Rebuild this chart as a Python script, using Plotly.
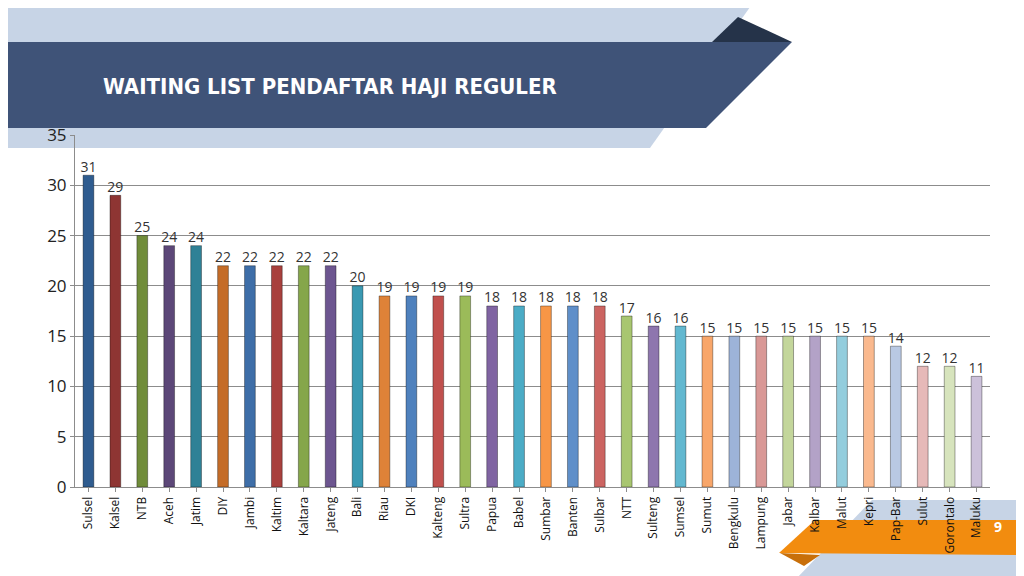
import plotly.graph_objects as go

provinces = ["Sulsel","Kalsel","NTB","Aceh","Jatim","DIY","Jambi","Kaltim","Kaltara","Jateng","Bali","Riau","DKI","Kalteng","Sultra","Papua","Babel","Sumbar","Banten","Sulbar","NTT","Sulteng","Sumsel","Sumut","Bengkulu","Lampung","Jabar","Kalbar","Malut","Kepri","Pap-Bar","Sulut","Gorontalo","Maluku"]
years = [31,29,25,24,24,22,22,22,22,22,20,19,19,19,19,18,18,18,18,18,17,16,16,15,15,15,15,15,15,15,14,12,12,11]
colors = ["#2F5C8F","#8E3533","#708C3A","#5C4778","#2F8196","#C46C28",
          "#3E6EA8","#A8403D","#85A64A","#6D5690","#3A99B2","#DE8238",
          "#4F81BD","#C0504D","#9BBB59","#8064A2","#4BACC6","#F79646",
          "#5F8FC9","#CC6461","#A8C670","#8E76AE","#62B8D0","#F8A66A",
          "#9DB3D8","#D99896","#C3D69B","#B3A2C7","#93CDDD","#FAB98E",
          "#B9C9E3","#E6B9B8","#D7E4BD","#CCC1DA"]

OFF = 8  # page body margin
W, H = 1024 - OFF, 576 - OFF
L, R, T, B = 75 - OFF, 34, 135 - OFF, 89
pw, ph = W - L - R, H - T - B
def px(x): return (x - OFF - L) / pw
def py(y): return (H - B - (y - OFF)) / ph
def path(pts):
    return "M " + " L ".join(f"{px(x):.4f},{py(y):.4f}" for x, y in pts) + " Z"

fig = go.Figure()
fig.add_trace(go.Bar(
    x=provinces, y=years, width=0.4,
    marker=dict(color=colors, line=dict(color="rgba(0,0,0,0.35)", width=1)),
))
fig.add_trace(go.Scatter(
    x=provinces, y=years, mode="text", text=[str(v) for v in years],
    textposition="top center", cliponaxis=False, hoverinfo="skip",
    textfont=dict(family="Open Sans", size=14, color="#333333"),
))

def shp(pts, color, layer="above"):
    return dict(type="path", xref="paper", yref="paper", path=path(pts),
                fillcolor=color, line_width=0, layer=layer)

shapes = [
    shp([(0,0),(755,0),(650,148),(0,148)], "#C7D4E6", "below"),
    shp([(712,42),(738,17),(792,42)], "#253349"),
    shp([(0,42),(792,42),(706,128),(0,128)], "#3F5378"),
    shp([(872,500),(1030,500),(1030,580),(795,580)], "#C7D4E6", "below"),
    shp([(815,520),(1030,520),(1030,555),(779,553)], "#F28C0F", "below"),
    shp([(780,553),(804,566),(820,555)], "#C86F0A", "below"),
]

fig.update_layout(
    width=W, height=H, margin=dict(l=L, r=R, t=T, b=B, autoexpand=False),
    paper_bgcolor="white", plot_bgcolor="rgba(0,0,0,0)", showlegend=False,
    shapes=shapes,
    annotations=[
        dict(text="<b>WAITING LIST PENDAFTAR HAJI REGULER</b>", xref="paper", yref="paper",
             x=px(101), y=py(87), xanchor="left", yanchor="middle", showarrow=False,
             font=dict(family="DejaVu Sans Condensed, Roboto", size=22, color="white")),
        dict(text="<b>9</b>", xref="paper", yref="paper", x=px(1004), y=py(538),
             showarrow=False, font=dict(family="Open Sans", size=14, color="white")),
    ],
    yaxis=dict(range=[0,35], dtick=5, showgrid=True, gridcolor="#8C8C8C", gridwidth=1,
               automargin=False,
               tickfont=dict(family="Open Sans", size=17, color="#222222"),
               showline=True, linecolor="#8C8C8C", ticks="outside", ticklen=4, tickcolor="#8C8C8C"),
    xaxis=dict(range=[-0.5, len(provinces) - 0.5], tickangle=-90, automargin=False,
               tickfont=dict(family="Open Sans", size=12, color="#111111"),
               showline=True, linecolor="#8C8C8C", ticks="outside", ticklen=4, tickcolor="#8C8C8C"),
)
fig.write_html("out.html")
